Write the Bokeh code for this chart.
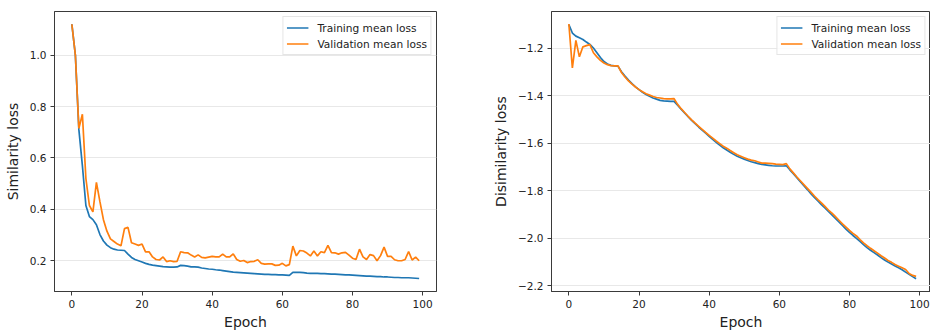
from bokeh.plotting import figure
from bokeh.layouts import row
from bokeh.models import Range1d, FixedTicker, Legend, LegendItem, CustomJSTickFormatter
from bokeh.embed import file_html
from bokeh.resources import INLINE

epochs = list(range(100))

sim_train = [1.12, 1.00, 0.71, 0.57, 0.415, 0.372, 0.36, 0.34, 0.302, 0.277,
             0.261, 0.251, 0.245, 0.242, 0.241, 0.240, 0.226, 0.213, 0.205, 0.200,
             0.195, 0.190, 0.186, 0.183, 0.181, 0.179, 0.177, 0.176, 0.175, 0.175,
             0.176, 0.182, 0.181, 0.179, 0.176, 0.176, 0.175, 0.172, 0.170, 0.168,
             0.167, 0.165, 0.164, 0.162, 0.160, 0.158, 0.156, 0.155, 0.154, 0.153,
             0.152, 0.151, 0.150, 0.149, 0.148, 0.147, 0.147, 0.146, 0.146, 0.145,
             0.145, 0.144, 0.143, 0.155, 0.155, 0.155, 0.154, 0.152, 0.151, 0.151,
             0.151, 0.150, 0.150, 0.149, 0.148, 0.148, 0.147, 0.146, 0.145, 0.145,
             0.144, 0.143, 0.142, 0.141, 0.140, 0.140, 0.139, 0.138, 0.138, 0.137,
             0.137, 0.136, 0.135, 0.135, 0.134, 0.134, 0.134, 0.133, 0.132, 0.131]

sim_val = [1.12, 1.00, 0.715, 0.77, 0.52, 0.415, 0.39, 0.505, 0.43, 0.36,
           0.315, 0.285, 0.275, 0.265, 0.258, 0.325, 0.33, 0.27, 0.265, 0.26,
           0.265, 0.235, 0.235, 0.215, 0.205, 0.203, 0.215, 0.197, 0.200, 0.197,
           0.198, 0.235, 0.232, 0.231, 0.222, 0.215, 0.223, 0.213, 0.211, 0.214,
           0.217, 0.215, 0.215, 0.226, 0.215, 0.215, 0.227, 0.205, 0.198, 0.201,
           0.193, 0.197, 0.198, 0.204, 0.190, 0.187, 0.188, 0.188, 0.182, 0.183,
           0.190, 0.180, 0.185, 0.257, 0.219, 0.240, 0.238, 0.230, 0.219, 0.238,
           0.219, 0.235, 0.232, 0.260, 0.232, 0.231, 0.226, 0.231, 0.233, 0.222,
           0.210, 0.205, 0.245, 0.215, 0.205, 0.224, 0.220, 0.200, 0.220, 0.253,
           0.217, 0.217, 0.204, 0.200, 0.200, 0.205, 0.236, 0.203, 0.214, 0.200]

dis_train = [-1.102, -1.137, -1.150, -1.157, -1.164, -1.175, -1.185, -1.200, -1.220, -1.240,
             -1.257, -1.267, -1.273, -1.275, -1.276, -1.300, -1.318, -1.335, -1.350, -1.363,
             -1.375, -1.386, -1.395, -1.403, -1.410, -1.415, -1.420, -1.422, -1.423, -1.424,
             -1.424, -1.440, -1.457, -1.473, -1.489, -1.504, -1.518, -1.532, -1.545, -1.558,
             -1.571, -1.584, -1.596, -1.608, -1.619, -1.629, -1.638, -1.647, -1.655, -1.661,
             -1.667, -1.673, -1.678, -1.682, -1.686, -1.689, -1.691, -1.693, -1.695, -1.696,
             -1.696, -1.696, -1.695, -1.712, -1.728, -1.745, -1.762, -1.779, -1.795, -1.812,
             -1.828, -1.843, -1.858, -1.872, -1.887, -1.901, -1.916, -1.931, -1.946, -1.961,
             -1.975, -1.988, -2.000, -2.013, -2.026, -2.039, -2.050, -2.060, -2.070, -2.081,
             -2.091, -2.100, -2.108, -2.116, -2.124, -2.132, -2.142, -2.151, -2.161, -2.170]

dis_val = [-1.099, -1.284, -1.168, -1.237, -1.195, -1.190, -1.186, -1.220, -1.237, -1.252,
           -1.263, -1.270, -1.274, -1.275, -1.275, -1.303, -1.322, -1.338, -1.352, -1.364,
           -1.375, -1.384, -1.392, -1.398, -1.404, -1.408, -1.410, -1.413, -1.414, -1.414,
           -1.413, -1.437, -1.455, -1.471, -1.487, -1.502, -1.516, -1.529, -1.542, -1.555,
           -1.567, -1.579, -1.591, -1.602, -1.613, -1.621, -1.631, -1.640, -1.649, -1.655,
           -1.661, -1.667, -1.671, -1.674, -1.679, -1.684, -1.684, -1.685, -1.686, -1.688,
           -1.689, -1.690, -1.686, -1.708, -1.725, -1.742, -1.758, -1.774, -1.790, -1.806,
           -1.822, -1.837, -1.851, -1.866, -1.881, -1.894, -1.909, -1.924, -1.939, -1.953,
           -1.967, -1.979, -1.990, -2.005, -2.019, -2.031, -2.042, -2.052, -2.062, -2.073,
           -2.083, -2.093, -2.101, -2.110, -2.117, -2.124, -2.131, -2.148, -2.156, -2.160]

x_ticks = [0, 20, 40, 60, 80, 100]
sim_ticks = [0.2, 0.4, 0.6, 0.8, 1.0]
dis_ticks = [-2.2, -2.0, -1.8, -1.6, -1.4, -1.2]
series_labels = ["Training mean loss", "Validation mean loss"]
colors = ["#1f77b4", "#ff7f0e"]

FONT = "DejaVu Sans"
TXT = "#222222"
SPINE = "#3a3a3a"


def make_fig(width, left, right, yr, xr, yticks, ylabel, train, val):
    p = figure(width=width, height=332, output_backend="svg", toolbar_location=None,
               x_range=xr, y_range=yr,
               min_border_left=left, min_border_right=right,
               min_border_top=11, min_border_bottom=38)
    p.background_fill_color = "white"
    p.border_fill_color = "white"
    p.outline_line_color = SPINE
    p.outline_line_width = 1
    p.xgrid.grid_line_color = None
    p.ygrid.grid_line_color = "#e8e8e8"
    p.ygrid.grid_line_width = 1
    p.xaxis.ticker = FixedTicker(ticks=x_ticks)
    p.yaxis.ticker = FixedTicker(ticks=yticks)
    p.yaxis.formatter = CustomJSTickFormatter(
        code="return tick.toFixed(1).replace('-', '\u2212');")
    for ax in (p.xaxis[0], p.yaxis[0]):
        ax.axis_line_color = SPINE
        ax.major_tick_line_color = SPINE
        ax.major_tick_in = 0
        ax.major_tick_out = 4
        ax.minor_tick_line_color = None
        ax.major_label_text_font = FONT
        ax.major_label_text_font_size = "10.5px"
        ax.major_label_text_color = TXT
        ax.major_label_standoff = 4
        ax.axis_label_text_font = FONT
        ax.axis_label_text_font_size = "14px"
        ax.axis_label_text_font_style = "normal"
        ax.axis_label_text_color = TXT
    p.xaxis.axis_label = "Epoch"
    p.xaxis.axis_label_standoff = 3
    p.yaxis.axis_label = ylabel
    p.yaxis.axis_label_standoff = 6
    r1 = p.line(epochs, train, line_color=colors[0], line_width=1.7)
    r2 = p.line(epochs, val, line_color=colors[1], line_width=1.7)
    leg = Legend(items=[LegendItem(label=series_labels[0], renderers=[r1]),
                        LegendItem(label=series_labels[1], renderers=[r2])],
                 location="top_right", margin=5, padding=3, spacing=1,
                 glyph_width=22, glyph_height=15, label_height=15,
                 label_standoff=9,
                 label_text_font=FONT, label_text_font_size="10.6px",
                 label_text_color=TXT,
                 border_line_color="#cccccc", border_line_width=1,
                 background_fill_color="white", background_fill_alpha=0.85)
    p.add_layout(leg)
    return p


p1 = make_fig(470, 54, 34, Range1d(0.0805, 1.1695), Range1d(-4.95, 103.95),
              sim_ticks, "Similarity loss", sim_train, sim_val)
p2 = make_fig(460, 81, 0, Range1d(-2.2235, -1.0465), Range1d(-4.95, 103.1),
              dis_ticks, "Disimilarity loss", dis_train, dis_val)

layout = row(p1, p2)
open("out.html", "w").write(file_html(layout, INLINE))
